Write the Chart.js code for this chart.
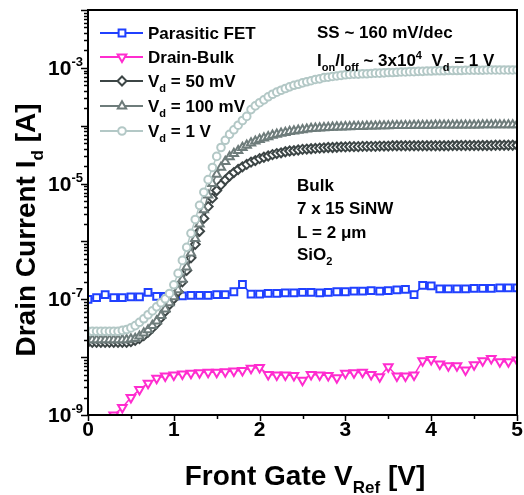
<!DOCTYPE html>
<html>
<head>
<meta charset="utf-8">
<script src="https://cdn.jsdelivr.net/npm/chart.js@4.4.0/dist/chart.umd.min.js"></script>
<style>
  html, body { margin: 0; padding: 0; background: #fff; }
</style>
</head>
<body>
<canvas id="idvg" width="524" height="495"></canvas>
<script>
// gate sweep grids (V)
const gateFine = Array.from({length: 101}, (_, i) => +(i * 0.05).toFixed(2));
const gateCoarse = Array.from({length: 51}, (_, i) => +(i * 0.1).toFixed(1));

// Id [A]
const parasiticFET = [
  1.0e-7, 1.07e-7, 1.2e-7, 1.07e-7, 1.07e-7, 1.1e-7, 1.1e-7, 1.32e-7, 1.12e-7, 1.12e-7,
  1.15e-7, 1.15e-7, 1.17e-7, 1.17e-7, 1.17e-7, 1.2e-7, 1.2e-7, 1.35e-7, 1.8e-7, 1.23e-7,
  1.23e-7, 1.26e-7, 1.26e-7, 1.29e-7, 1.29e-7, 1.32e-7, 1.32e-7, 1.29e-7, 1.32e-7, 1.35e-7,
  1.35e-7, 1.38e-7, 1.38e-7, 1.41e-7, 1.38e-7, 1.41e-7, 1.45e-7, 1.48e-7, 1.2e-7, 1.74e-7,
  1.7e-7, 1.51e-7, 1.51e-7, 1.51e-7, 1.51e-7, 1.55e-7, 1.55e-7, 1.55e-7, 1.58e-7, 1.58e-7,
  1.58e-7
];
const drainBulk = [
  null, null, null, 1.0e-9, 1.35e-9, 2.0e-9, 2.75e-9, 3.55e-9, 4.3e-9, 4.7e-9,
  4.9e-9, 5.1e-9, 5.25e-9, 5.4e-9, 5.5e-9, 5.5e-9, 5.6e-9, 5.75e-9, 5.9e-9, 6.45e-9,
  6.6e-9, 5.0e-9, 4.9e-9, 4.9e-9, 4.8e-9, 4.0e-9, 5.0e-9, 4.9e-9, 4.8e-9, 4.4e-9,
  5.25e-9, 5.4e-9, 5.5e-9, 5.0e-9, 4.6e-9, 6.8e-9, 4.7e-9, 4.7e-9, 4.9e-9, 8.7e-9,
  9.1e-9, 7.6e-9, 7.1e-9, 7.1e-9, 6.0e-9, 7.4e-9, 8.7e-9, 9.5e-9, 8.3e-9, 8.3e-9,
  8.9e-9
];
const id50mV = [
  1.8e-8, 1.8e-8, 1.8e-8, 1.8e-8, 1.8e-8, 1.8e-8, 1.8e-8, 1.8e-8, 1.8e-8, 1.8e-8,
  1.85e-8, 1.95e-8, 2.1e-8, 2.35e-8, 2.7e-8, 3.2e-8, 3.8e-8, 4.8e-8, 6.2e-8, 8.1e-8,
  1.02e-7, 1.35e-7, 2.0e-7, 3.16e-7, 5.2e-7, 8.9e-7, 1.5e-6, 2.5e-6, 4.0e-6, 5.6e-6,
  7.6e-6, 9.5e-6, 1.15e-5, 1.35e-5, 1.55e-5, 1.75e-5, 1.95e-5, 2.15e-5, 2.35e-5, 2.5e-5,
  2.7e-5, 2.85e-5, 3.0e-5, 3.16e-5, 3.3e-5, 3.4e-5, 3.55e-5, 3.65e-5, 3.7e-5, 3.8e-5,
  3.9e-5, 3.95e-5, 4.0e-5, 4.05e-5, 4.1e-5, 4.15e-5, 4.2e-5, 4.2e-5, 4.25e-5, 4.3e-5,
  4.3e-5, 4.35e-5, 4.35e-5, 4.35e-5, 4.4e-5, 4.4e-5, 4.4e-5, 4.4e-5, 4.45e-5, 4.45e-5,
  4.45e-5, 4.5e-5, 4.5e-5, 4.5e-5, 4.5e-5, 4.5e-5, 4.5e-5, 4.5e-5, 4.5e-5, 4.5e-5,
  4.5e-5, 4.5e-5, 4.5e-5, 4.5e-5, 4.5e-5, 4.55e-5, 4.55e-5, 4.55e-5, 4.55e-5, 4.55e-5,
  4.55e-5, 4.55e-5, 4.55e-5, 4.55e-5, 4.55e-5, 4.6e-5, 4.6e-5, 4.6e-5, 4.6e-5, 4.6e-5,
  4.6e-5
];
const id100mV = [
  2.0e-8, 2.0e-8, 2.0e-8, 2.0e-8, 2.0e-8, 2.0e-8, 2.0e-8, 2.0e-8, 2.0e-8, 2.0e-8,
  2.05e-8, 2.1e-8, 2.3e-8, 2.6e-8, 2.95e-8, 3.5e-8, 4.2e-8, 5.2e-8, 6.8e-8, 8.7e-8,
  1.1e-7, 1.45e-7, 2.2e-7, 3.6e-7, 6.3e-7, 1.12e-6, 2.0e-6, 3.5e-6, 6.3e-6, 1.0e-5,
  1.45e-5, 1.9e-5, 2.4e-5, 2.9e-5, 3.3e-5, 3.7e-5, 4.2e-5, 4.6e-5, 5.0e-5, 5.4e-5,
  5.75e-5, 6.1e-5, 6.45e-5, 6.8e-5, 7.1e-5, 7.4e-5, 7.6e-5, 7.9e-5, 8.1e-5, 8.3e-5,
  8.5e-5, 8.7e-5, 8.9e-5, 9.0e-5, 9.1e-5, 9.2e-5, 9.3e-5, 9.4e-5, 9.5e-5, 9.5e-5,
  9.6e-5, 9.6e-5, 9.7e-5, 9.7e-5, 9.7e-5, 9.8e-5, 9.8e-5, 9.8e-5, 9.9e-5, 9.9e-5,
  9.9e-5, 1.0e-4, 1.0e-4, 1.0e-4, 1.0e-4, 1.0e-4, 1.01e-4, 1.01e-4, 1.01e-4, 1.01e-4,
  1.01e-4, 1.02e-4, 1.02e-4, 1.02e-4, 1.02e-4, 1.02e-4, 1.02e-4, 1.02e-4, 1.02e-4, 1.02e-4,
  1.02e-4, 1.02e-4, 1.03e-4, 1.03e-4, 1.03e-4, 1.03e-4, 1.03e-4, 1.03e-4, 1.03e-4, 1.03e-4,
  1.03e-4
];
const id1V = [
  2.8e-8, 2.8e-8, 2.8e-8, 2.8e-8, 2.8e-8, 2.8e-8, 2.8e-8, 2.8e-8, 2.9e-8, 3.0e-8,
  3.2e-8, 3.5e-8, 4.0e-8, 4.6e-8, 5.4e-8, 6.3e-8, 7.4e-8, 8.7e-8, 1.02e-7, 1.26e-7,
  1.78e-7, 2.8e-7, 4.7e-7, 7.9e-7, 1.38e-6, 2.4e-6, 4.2e-6, 7.1e-6, 1.17e-5, 1.9e-5,
  2.95e-5, 4.2e-5, 5.6e-5, 7.1e-5, 8.5e-5, 1.02e-4, 1.23e-4, 1.45e-4, 1.9e-4, 2.2e-4,
  2.5e-4, 2.8e-4, 3.16e-4, 3.5e-4, 3.8e-4, 4.1e-4, 4.4e-4, 4.7e-4, 5.0e-4, 5.2e-4,
  5.5e-4, 5.75e-4, 6.0e-4, 6.3e-4, 6.45e-4, 6.8e-4, 6.9e-4, 7.1e-4, 7.25e-4, 7.4e-4,
  7.6e-4, 7.7e-4, 7.8e-4, 7.8e-4, 7.9e-4, 7.9e-4, 8.0e-4, 8.1e-4, 8.1e-4, 8.2e-4,
  8.3e-4, 8.3e-4, 8.4e-4, 8.5e-4, 8.5e-4, 8.6e-4, 8.6e-4, 8.7e-4, 8.7e-4, 8.8e-4,
  8.8e-4, 8.9e-4, 8.9e-4, 8.9e-4, 9.0e-4, 9.0e-4, 9.0e-4, 9.0e-4, 9.1e-4, 9.1e-4,
  9.1e-4, 9.1e-4, 9.1e-4, 9.2e-4, 9.2e-4, 9.2e-4, 9.2e-4, 9.2e-4, 9.2e-4, 9.2e-4,
  9.2e-4
];

// axis ticks
const xTickLabels = ['0', '1', '2', '3', '4', '5'];
const yLabelExps = [-9, -7, -5, -3];

const FONT = '"Liberation Sans", Arial, sans-serif';
const BLUE = '#2040ff', PINK = '#ff2ccf', DARK = '#3c4545', MID = '#6e7c7b', LIGHT = '#b3c8c6';

const pts = (xs, ys) => ys.map((y, i) => ({x: xs[i], y: y}));

function series(label, xs, ys, color, style, radius, rot, order) {
  return {
    label: label, data: pts(xs, ys), order: order,
    borderColor: color, borderWidth: 1.5, showLine: true,
    pointStyle: style, pointRadius: radius, pointRotation: rot || 0,
    pointBorderColor: color, pointBackgroundColor: '#fff', pointBorderWidth: 2,
    spanGaps: false
  };
}

// text with sub/superscripts: parts = [[text, 'n'|'sub'|'sup'], ...]
function rich(ctx, x, y, parts, size, align) {
  let total = 0;
  const segs = parts.map(([t, k]) => {
    const s = k === 'n' ? size : Math.round(size * 0.62);
    ctx.font = `bold ${s}px ${FONT}`;
    const w = ctx.measureText(t).width;
    total += w;
    return {t, k, s, w};
  });
  let cx = align === 'center' ? x - total / 2 : align === 'right' ? x - total : x;
  ctx.textAlign = 'left';
  ctx.textBaseline = 'alphabetic';
  segs.forEach(g => {
    ctx.font = `bold ${g.s}px ${FONT}`;
    const dy = g.k === 'sub' ? size * 0.28 : g.k === 'sup' ? -size * 0.42 : 0;
    ctx.fillText(g.t, cx, y + dy);
    cx += g.w;
  });
}

const legendItems = [
  {ds: 0, parts: [['Parasitic FET', 'n']]},
  {ds: 1, parts: [['Drain-Bulk', 'n']]},
  {ds: 2, parts: [['V', 'n'], ['d', 'sub'], [' = 50 mV', 'n']]},
  {ds: 3, parts: [['V', 'n'], ['d', 'sub'], [' = 100 mV', 'n']]},
  {ds: 4, parts: [['V', 'n'], ['d', 'sub'], [' = 1 V', 'n']]}
];

const decor = {
  id: 'decor',
  afterDraw(chart) {
    const ctx = chart.ctx, a = chart.chartArea;
    const xs = chart.scales.x, ys = chart.scales.y;
    ctx.save();
    ctx.fillStyle = '#000';
    ctx.strokeStyle = '#000';

    // frame
    ctx.lineWidth = 2;
    ctx.strokeRect(a.left, a.top, a.right - a.left, a.bottom - a.top);

    // y ticks (log): decades long, 2..9 short
    ctx.lineWidth = 1.5;
    for (let e = -9; e <= -2; e++) {
      for (let m = 1; m <= 9; m++) {
        if (e === -2 && m > 1) break;
        const py = Math.round(ys.getPixelForValue(m * Math.pow(10, e))) + 0.5;
        const len = m === 1 ? 7 : 4;
        ctx.beginPath();
        ctx.moveTo(a.left - len, py);
        ctx.lineTo(a.left, py);
        ctx.stroke();
      }
    }
    yLabelExps.forEach(e => {
      const py = ys.getPixelForValue(Math.pow(10, e));
      rich(ctx, 83, py + 7, [['10', 'n'], [String(e), 'sup']], 21, 'right');
    });

    // x ticks
    for (let v = 0; v <= 5; v += 0.5) {
      const px = Math.round(xs.getPixelForValue(v)) + 0.5;
      const len = Number.isInteger(v) ? 6 : 4;
      ctx.beginPath();
      ctx.moveTo(px, a.bottom);
      ctx.lineTo(px, a.bottom + len);
      ctx.stroke();
    }
    xTickLabels.forEach((t, i) => {
      rich(ctx, xs.getPixelForValue(i), 436, [[t, 'n']], 21, 'center');
    });

    // axis titles
    rich(ctx, 305, 485, [['Front Gate V', 'n'], ['Ref', 'sub'], [' [V]', 'n']], 28, 'center');
    ctx.save();
    ctx.translate(35, 230);
    ctx.rotate(-Math.PI / 2);
    rich(ctx, 0, 0, [['Drain Current I', 'n'], ['d', 'sub'], [' [A]', 'n']], 28, 'center');
    ctx.restore();

    // legend
    const rowY = [33, 57, 81, 106, 131];
    legendItems.forEach((it, i) => {
      const d = chart.data.datasets[it.ds];
      const y = rowY[i];
      ctx.strokeStyle = d.borderColor;
      ctx.lineWidth = 2;
      ctx.beginPath();
      ctx.moveTo(100, y);
      ctx.lineTo(143, y);
      ctx.stroke();
      ctx.fillStyle = '#fff';
      Chart.helpers.drawPoint(ctx, {
        pointStyle: d.pointStyle, rotation: d.pointRotation,
        radius: d.pointRadius, borderWidth: 2
      }, 122, y);
      ctx.fillStyle = '#000';
      rich(ctx, 148, y + 6, it.parts, 17, 'left');
    });

    // annotations
    ctx.fillStyle = '#000';
    rich(ctx, 317, 38, [['SS ~ 160 mV/dec', 'n']], 17, 'left');
    rich(ctx, 317, 66, [['I', 'n'], ['on', 'sub'], ['/I', 'n'], ['off', 'sub'], [' ~ 3x10', 'n'], ['4', 'sup'],
      ['  V', 'n'], ['d', 'sub'], [' = 1 V', 'n']], 17, 'left');
    rich(ctx, 297, 191, [['Bulk', 'n']], 17, 'left');
    rich(ctx, 297, 214, [['7 x 15 SiNW', 'n']], 17, 'left');
    rich(ctx, 297, 238, [['L = 2 \u03bcm', 'n']], 17, 'left');
    rich(ctx, 297, 260, [['SiO', 'n'], ['2', 'sub']], 17, 'left');
    ctx.restore();
  }
};

new Chart(document.getElementById('idvg'), {
  type: 'line',
  data: {
    datasets: [
      series('Parasitic FET', gateCoarse, parasiticFET, BLUE, 'rect', 4.8, 0, 4),
      series('Drain-Bulk', gateCoarse, drainBulk, PINK, 'triangle', 5, 180, 5),
      series('Vd = 50 mV', gateFine, id50mV, DARK, 'rectRot', 4.5, 0, 3),
      series('Vd = 100 mV', gateFine, id100mV, MID, 'triangle', 4.8, 0, 2),
      series('Vd = 1 V', gateFine, id1V, LIGHT, 'circle', 3.8, 0, 1)
    ]
  },
  options: {
    responsive: false,
    animation: false,
    layout: {padding: {top: 10, right: 5, left: 0, bottom: 0}},
    plugins: {legend: {display: false}, tooltip: {enabled: false}},
    scales: {
      x: {
        type: 'linear', min: 0, max: 5,
        ticks: {display: false}, grid: {display: false, drawTicks: false}, border: {display: false},
        afterFit(s) { s.height = 80; }
      },
      y: {
        type: 'logarithmic', min: 1e-9, max: 1e-2,
        ticks: {display: false}, grid: {display: false, drawTicks: false}, border: {display: false},
        afterFit(s) { s.width = 88; }
      }
    }
  },
  plugins: [decor]
});
</script>
</body>
</html>
